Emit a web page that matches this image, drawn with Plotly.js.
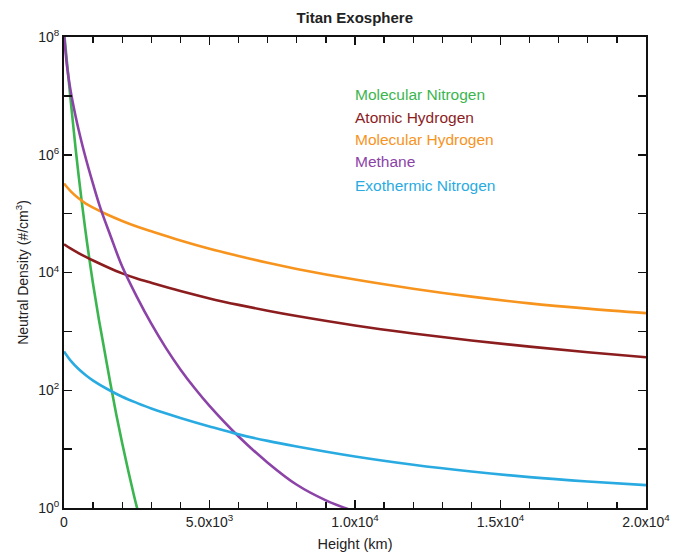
<!DOCTYPE html>
<html>
<head>
<meta charset="utf-8">
<script src="https://cdn.plot.ly/plotly-3.0.1.min.js"></script>
<style>html,body{margin:0;padding:0;background:#fff;}#chart{width:689px;height:560px;}</style>
</head>
<body>
<div id="chart"></div>
<script>
// Height (km) and neutral density (#/cm^3)
const seriesNames = ["Molecular Nitrogen", "Atomic Hydrogen", "Molecular Hydrogen", "Methane", "Exothermic Nitrogen"];

const n2Height = [0,100,200,300,400,500,600,700,800,1000,1200,1400,1600,1800,2000,2200,2400,2500,2600];
const n2Density = [1.26e8,3.80e7,1.17e7,3.80e6,1.26e6,4.57e5,1.74e5,7.08e4,3.02e4,6.31e3,1.58e3,447,126,38.0,12.6,4.47,1.66,1.05,0.68];

const hHeight = [0,250,500,750,1000,1500,2000,2500,3000,4000,5000,6000,7000,8000,10000,12000,14000,16000,18000,20000];
const hDensity = [3.02e4,2.51e4,2.14e4,1.84e4,1.60e4,1.23e4,9.66e3,7.91e3,6.68e3,4.84e3,3.63e3,2.82e3,2.24e3,1.82e3,1.26e3,923,700,550,442,363];

const h2Height = [0,250,500,750,1000,1500,2000,2500,3000,4000,5000,6000,7000,8000,10000,12000,14000,16000,18000,20000];
const h2Density = [3.24e5,2.34e5,1.82e5,1.48e5,1.26e5,9.55e4,7.50e4,6.03e4,5.01e4,3.51e4,2.54e4,1.91e4,1.46e4,1.15e4,7.59e3,5.31e3,3.89e3,2.99e3,2.43e3,2.04e3];

const ch4Height = [0,100,200,300,400,500,700,1000,1260,1600,2000,2500,3000,3500,4000,4500,5000,6000,7000,8000,9000,10000];
const ch4Density = [1.12e8,3.31e7,1.48e7,7.76e6,4.47e6,2.69e6,1.07e6,3.16e5,1.20e5,4.17e4,1.26e4,3.89e3,1.35e3,525,226,107,54.3,16.4,5.89,2.48,1.35,0.871];

const exoHeight = [0,250,500,750,1000,1500,2000,2500,3000,4000,5000,6000,7000,8000,10000,12000,14000,16000,18000,20000];
const exoDensity = [457,309,229,180,146,104,77.6,61.0,49.0,33.9,24.3,17.8,13.8,11.1,7.50,5.43,4.17,3.35,2.82,2.45];

const xTickVals = [0,5000,10000,15000,20000];
const xTickText = ["0","5.0x10<sup>3</sup>","1.0x10<sup>4</sup>","1.5x10<sup>4</sup>","2.0x10<sup>4</sup>"];
const yTickVals = [1,10,100,1e3,1e4,1e5,1e6,1e7,1e8];
const yTickText = ["10<sup>0</sup>","","10<sup>2</sup>","","10<sup>4</sup>","","10<sup>6</sup>","","10<sup>8</sup>"];

const colors = ["#3bb54f", "#8c1d1f", "#f7941e", "#8c43a8", "#29abe2"];
const xs = [n2Height, hHeight, h2Height, ch4Height, exoHeight];
const ys = [n2Density, hDensity, h2Density, ch4Density, exoDensity];

const traces = seriesNames.map((name, i) => ({
  x: xs[i], y: ys[i], name: name, type: "scatter", mode: "lines",
  line: {color: colors[i], width: 2.6, shape: "spline", smoothing: 1},
  hoverinfo: "skip"
}));

const font = "Liberation Sans, Arial, Helvetica, sans-serif";
const legendY = [0.877, 0.830, 0.783, 0.735, 0.684];
const annotations = seriesNames.map((name, i) => ({
  text: name, xref: "paper", yref: "paper", x: 0.497, y: legendY[i],
  xanchor: "left", yanchor: "middle", showarrow: false,
  font: {family: font, size: 15.5, color: colors[i]}
}));

const layout = {
  width: 689, height: 560,
  margin: {l: 64, r: 43, t: 37, b: 52},
  paper_bgcolor: "#fff", plot_bgcolor: "#fff",
  showlegend: false,
  title: {text: "<b>Titan Exosphere</b>", font: {family: font, size: 15, color: "#222"}, x: 0.515, xanchor: "center", y: 0.968, yanchor: "middle"},
  xaxis: {
    range: [0, 20000], tickvals: xTickVals, ticktext: xTickText,
    ticks: "inside", ticklen: 8, tickwidth: 1.5, tickcolor: "#111",
    showline: true, linecolor: "#111", linewidth: 2, mirror: "ticks",
    showgrid: false, zeroline: false,
    minor: {dtick: 1000, ticks: "inside", ticklen: 6, tickwidth: 1.3, tickcolor: "#111", showgrid: false},
    tickfont: {family: font, size: 14, color: "#222"},
    title: {text: "Height (km)", font: {family: font, size: 14.5, color: "#222"}, standoff: 10}
  },
  yaxis: {
    type: "log", range: [0, 8], tickvals: yTickVals, ticktext: yTickText,
    ticks: "inside", ticklen: 8, tickwidth: 1.5, tickcolor: "#111",
    showline: true, linecolor: "#111", linewidth: 2, mirror: "ticks",
    showgrid: false, zeroline: false,
    tickfont: {family: font, size: 14, color: "#222"},
    title: {text: "Neutral Density (#/cm<sup>3</sup>)", font: {family: font, size: 14, color: "#222"}, standoff: 6}
  },
  annotations: annotations
};

Plotly.newPlot("chart", traces, layout, {staticPlot: true, displayModeBar: false});
</script>
</body>
</html>
